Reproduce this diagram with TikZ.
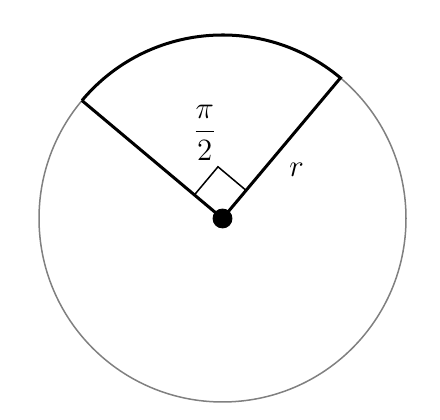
\documentclass[tikz,border=0pt]{standalone}
\usepackage{amsmath,amssymb}
\usetikzlibrary{positioning,calc}
\tikzset{cvert/.style={draw,circle,fill=black,minimum size=0.31cm,inner sep=0pt}  }
\tikzset{rim/.style={draw=black!50,line width=0.7pt}  }
\tikzset{side/.style={draw,line width=1.4pt}  }
\begin{document}
\begin{tikzpicture}
		\useasboundingbox (-3.638,-3.294) rectangle (3.556,3.572);
		\coordinate (o) at (0,0);
			\coordinate (a) at (50:3);
			\coordinate (b) at (140:3);
			\coordinate (m1) at (50:0.6);
			\coordinate (m2) at (140:0.6);
			\coordinate (m3) at ($(m1)+(m2)$);

			\draw[rim] (o) circle (3);
			\draw[side,line join=miter]
				  (b) -- (o) -- (a) arc (50:140:3)
				;
			\draw[line width=0.7pt] (m1) -- (m3) -- (m2);
			\node[cvert] (dot) at (o) {};
				\node[] (half) at (-0.29,1.4) {\Large $\dfrac{\pi}{2}$}; 
				\node[] (rad) at (1.21,0.79) {\Large $r$}; 
	\end{tikzpicture}
\end{document}
